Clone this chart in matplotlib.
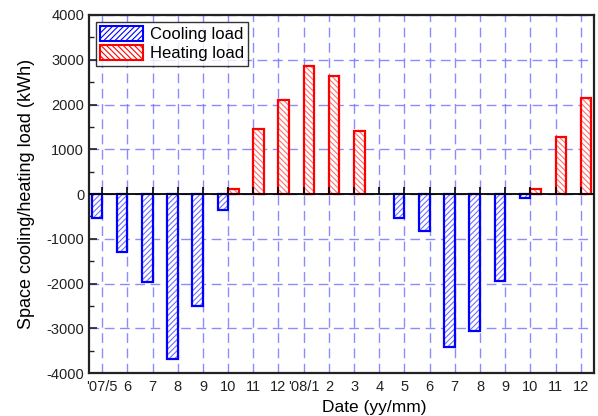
import numpy as np
import matplotlib
matplotlib.use("Agg")
import matplotlib.pyplot as plt
from matplotlib.patches import Patch

plt.rcParams["font.family"] = ["Liberation Sans", "DejaVu Sans"]
plt.rcParams["hatch.linewidth"] = 0.8
plt.rcParams["axes.unicode_minus"] = False

# month labels, May 2007 .. Dec 2008
months = ["'07/5", "6", "7", "8", "9", "10", "11", "12", "'08/1", "2",
          "3", "4", "5", "6", "7", "8", "9", "10", "11", "12"]
cooling = [-530, -1300, -1960, -3680, -2490, -360, 0, 0, 0, 0,
           0, 0, -530, -835, -3425, -3060, -1935, -90, 0, 0]
heating = [0, 0, 0, 0, 0, 110, 1460, 2100, 2860, 2630,
           1415, 0, 0, 0, 0, 0, 0, 110, 1265, 2150]

x = np.arange(len(months))
w = 0.42

fig = plt.figure(figsize=(5.98, 4.16), dpi=100)
ax = fig.add_axes([0.149, 0.103, 0.844, 0.861])

ax.grid(True, color="#7777ff", ls=(0, (7, 4)), lw=1.0, alpha=0.85)
ax.set_axisbelow(True)

# hatched fills then solid outlines
cm = np.array(cooling) != 0
hm = np.array(heating) != 0
ax.bar(x[cm], np.array(cooling)[cm], width=-w, align="edge", color="white",
       hatch="//////", edgecolor="#6f6fff", lw=0, zorder=3)
ax.bar(x[cm], np.array(cooling)[cm], width=-w, align="edge", fill=False,
       edgecolor="#0000ff", lw=1.6, zorder=4)
ax.bar(x[hm], np.array(heating)[hm], width=w, align="edge", color="white",
       hatch="\\\\\\\\\\\\", edgecolor="#ff7070", lw=0, zorder=3)
ax.bar(x[hm], np.array(heating)[hm], width=w, align="edge", fill=False,
       edgecolor="#ff0000", lw=1.6, zorder=4)

ax.axhline(0, color="black", lw=1.3, zorder=5)

ax.set_xlim(-0.52, len(months) - 0.48)
ax.set_ylim(-4000, 4000)
ax.set_xticks(x)
ax.set_xticklabels(months)
ax.set_yticks(np.arange(-4000, 4001, 1000))
ax.set_yticks(np.arange(-3500, 4000, 1000), minor=True)
ax.tick_params(axis="both", which="both", direction="in", labelsize=10.5,
               colors="#222222")
ax.tick_params(axis="y", which="major", length=6, width=1.2)
ax.tick_params(axis="y", which="minor", length=3.5, width=1.0)
ax.tick_params(axis="x", length=0, pad=5)

for s in ax.spines.values():
    s.set_linewidth(1.6)
    s.set_color("#222222")

# tick marks along the zero line
ax2 = ax.twiny()
ax2.set_xlim(ax.get_xlim())
ax2.set_xticks(x)
ax2.spines["bottom"].set_position(("data", 0))
ax2.xaxis.set_ticks_position("bottom")
ax2.tick_params(axis="x", direction="in", length=5, width=1.2, labelbottom=False,
                labeltop=False, colors="black")
for s in ax2.spines.values():
    s.set_visible(False)

ax.set_xlabel("Date (yy/mm)", fontsize=12.5)
ax.xaxis.set_label_coords(0.565, -0.075)
ax.set_ylabel("Space cooling/heating load (kWh)", fontsize=13)
ax.yaxis.set_label_coords(-0.108, 0.5)

handles = [Patch(facecolor="white", edgecolor="#0000ff", hatch="//////", lw=1.5),
           Patch(facecolor="white", edgecolor="#ff0000", hatch="\\\\\\\\\\\\", lw=1.5)]
leg = ax.legend(handles, ["Cooling load", "Heating load"], loc="upper left",
                fontsize=12, frameon=True, fancybox=False, edgecolor="black",
                borderaxespad=0.4, handlelength=2.6, handleheight=1.0,
                labelspacing=0.2, borderpad=0.25, handletextpad=0.4)
leg.get_frame().set_linewidth(1.0)
leg.set_zorder(10)

fig.savefig("out.png", dpi=100)
